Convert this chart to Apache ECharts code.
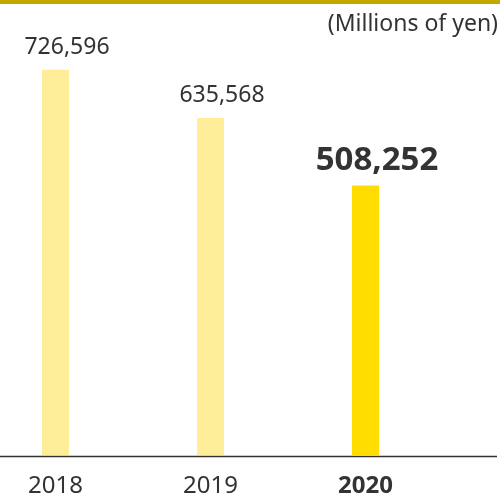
<!DOCTYPE html>
<html><head><meta charset="utf-8">
<script src="https://cdn.jsdelivr.net/npm/echarts@6/dist/echarts.min.js"></script>
<style>html,body{margin:0;padding:0;background:#fff}#c{width:500px;height:498px}</style>
</head><body><div id="c"></div>
<script>
const categories = ['2018', '2019', '2020'];
const values = [726596, 635568, 508252];
const barColors = ['#FFEE99', '#FFEE99', '#FFDD00'];
const unitLabel = '(Millions of yen)';

const chart = echarts.init(document.getElementById('c'));
const font = '"Noto Sans", sans-serif';
chart.setOption({
  animation: false,
  grid: { left: 55.5, width: 310, top: 4.4, bottom: 42 },
  xAxis: {
    type: 'category', data: categories, boundaryGap: false,
    axisLine: { show: false }, axisTick: { show: false },
    axisLabel: {
      margin: 19, fontSize: 24, color: '#333', fontFamily: font,
      formatter: (v, i) => i === categories.length - 1 ? '{b|' + v + '}' : v,
      rich: { b: { fontSize: 24, fontWeight: 'bold', color: '#333', fontFamily: font } }
    }
  },
  yAxis: { type: 'value', min: 0, max: 850000, show: false, splitLine: { show: false } },
  series: [{
    type: 'bar', barWidth: 27,
    data: values.map((v, i) => ({
      value: v,
      itemStyle: { color: barColors[i] },
      label: i === values.length - 1
        ? { fontSize: 33, fontWeight: 'bold', distance: 8 }
        : { fontSize: 23, distance: 11 }
    })),
    label: {
      show: true, position: 'top', color: '#333', fontFamily: font, offset: [11.5, 0],
      formatter: p => p.value.toLocaleString('en-US')
    }
  }],
  graphic: [
    { type: 'rect', left: 0, top: 0, shape: { width: 500, height: 4 }, style: { fill: '#C4A800' } },
    { type: 'line', shape: { x1: 0, y1: 456.5, x2: 497, y2: 456.5 }, style: { stroke: '#333', lineWidth: 1.5 } },
    { type: 'text', right: 2, top: 13, style: { text: unitLabel, fontSize: 23, fill: '#333', fontFamily: font } }
  ]
});
</script></body></html>
